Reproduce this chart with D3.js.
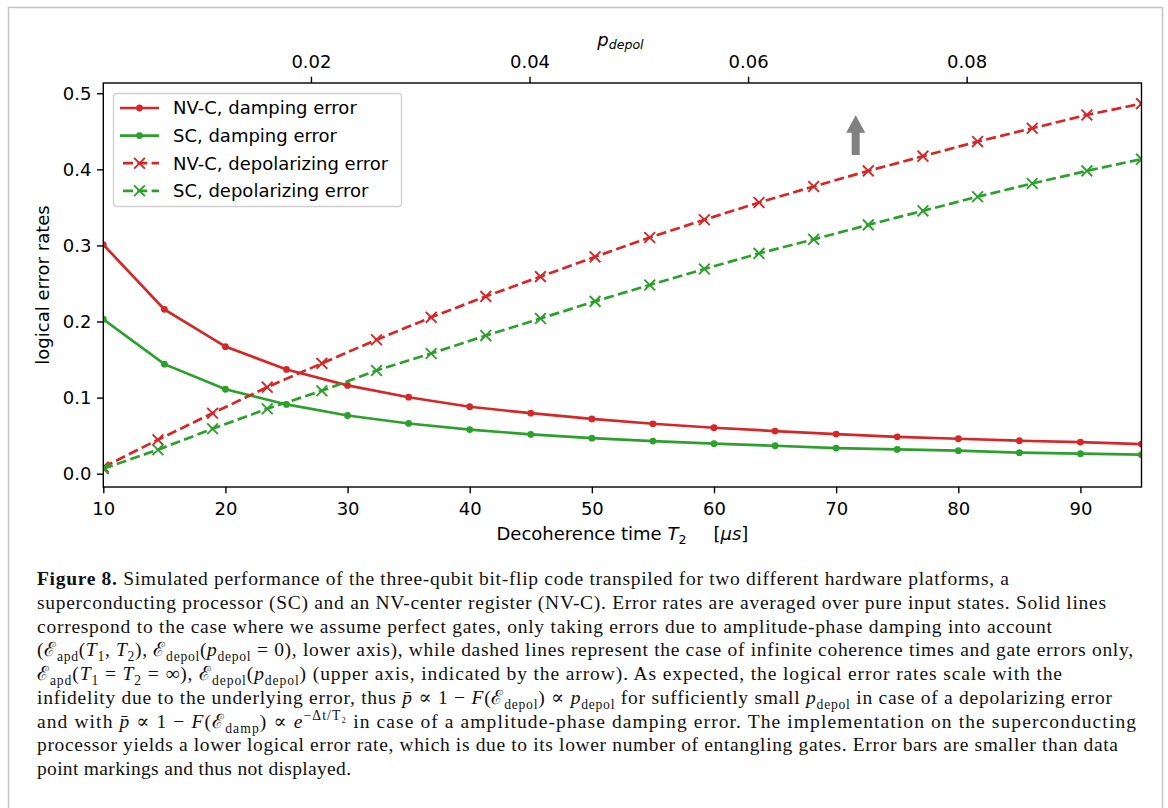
<!DOCTYPE html>
<html>
<head>
<meta charset="utf-8">
<script src="https://cdn.jsdelivr.net/npm/d3@7"></script>
<style>
  body { margin: 0; background: #fff; }
  svg { display: block; }
</style>
</head>
<body>
<svg id="chart" width="1168" height="808"></svg>
<script>
// values --------------------------------------------------------------
var t2 = [10, 15, 20, 25, 30, 35, 40, 45, 50, 55, 60, 65, 70, 75, 80, 85, 90, 95];
var nvDamp = [0.301, 0.216, 0.167, 0.137, 0.116, 0.1005, 0.088, 0.0795, 0.072, 0.0656,
              0.0604, 0.056, 0.052, 0.0485, 0.0459, 0.0433, 0.0415, 0.0389];
var scDamp = [0.203, 0.144, 0.111, 0.091, 0.0765, 0.066, 0.058, 0.0516, 0.0467, 0.0428,
              0.0394, 0.0367, 0.0336, 0.0319, 0.0302, 0.0276, 0.0263, 0.025];

var pDepol = [0.001, 0.006, 0.011, 0.016, 0.021, 0.026, 0.031, 0.036, 0.041, 0.046,
              0.051, 0.056, 0.061, 0.066, 0.071, 0.076, 0.081, 0.086, 0.091, 0.096];
var nvDepol = [0.0087, 0.0446, 0.0795, 0.1137, 0.145, 0.176, 0.2055, 0.233, 0.259, 0.285,
               0.3105, 0.3337, 0.3565, 0.3775, 0.398, 0.4173, 0.4365, 0.454, 0.4715, 0.4864];
var scDepol = [0.0066, 0.0315, 0.059, 0.0853, 0.109, 0.1356, 0.158, 0.1815, 0.204, 0.2265,
               0.248, 0.269, 0.2895, 0.308, 0.327, 0.3455, 0.364, 0.3814, 0.398, 0.4134];

var xTicks = [10, 20, 30, 40, 50, 60, 70, 80, 90];
var yTicks = [0, 0.1, 0.2, 0.3, 0.4, 0.5];
var topTicks = [0.02, 0.04, 0.06, 0.08];

// the grey arrow pointing at the upper axis (T2, error rate)
var arrowT2 = 71.6, arrowFrom = 0.419, arrowTo = 0.471;

var legendNames = ["NV-C, damping error", "SC, damping error",
                   "NV-C, depolarizing error", "SC, depolarizing error"];

// caption, one entry per printed line: [text, style]
var caption = [
  [["Figure 8.", "b"], [" Simulated performance of the three-qubit bit-flip code transpiled for two different hardware platforms, a", ""]],
  [["superconducting processor (SC) and an NV-center register (NV-C). Error rates are averaged over pure input states. Solid lines", ""]],
  [["correspond to the case where we assume perfect gates, only taking errors due to amplitude-phase damping into account", ""]],
  [["(ℰ", ""], ["apd", "sub"], ["(", ""], ["T", "i"], ["1", "sub"], [", ", ""], ["T", "i"], ["2", "sub"], ["), ℰ", ""], ["depol", "sub"],
   ["(", ""], ["p", "i"], ["depol", "sub"], [" = 0), lower axis), while dashed lines represent the case of infinite coherence times and gate errors only,", ""]],
  [["ℰ", ""], ["apd", "sub"], ["(", ""], ["T", "i"], ["1", "sub"], [" = ", ""], ["T", "i"], ["2", "sub"], [" = ∞), ℰ", ""], ["depol", "sub"],
   ["(", ""], ["p", "i"], ["depol", "sub"], [") (upper axis, indicated by the arrow). As expected, the logical error rates scale with the", ""]],
  [["infidelity due to the underlying error, thus ", ""], ["p\u0304", "i"], [" ∝ 1 − ", ""], ["F", "i"], ["(ℰ", ""], ["depol", "sub"], [") ∝ ", ""],
   ["p", "i"], ["depol", "sub"], [" for sufficiently small ", ""], ["p", "i"], ["depol", "sub"], [" in case of a depolarizing error", ""]],
  [["and with ", ""], ["p\u0304", "i"], [" ∝ 1 − ", ""], ["F", "i"], ["(ℰ", ""], ["damp", "sub"], [") ∝ ", ""], ["e", "i"], ["−Δt/T₂", "sup"],
   [" in case of a amplitude-phase damping error. The implementation on the superconducting", ""]],
  [["processor yields a lower logical error rate, which is due to its lower number of entangling gates. Error bars are smaller than data", ""]],
  [["point markings and thus not displayed.", ""]]
];
var captionEnds = [1009, 1106, 1052, 1133, 1062, 1112, 1136, 1118, 351];

// layout ---------------------------------------------------------------
var red = "#d62728", green = "#2ca02c";
var font = "DejaVu Sans, Verdana, sans-serif";
var fs = 18;
var m = {l: 103.3, r: 1141.5, t: 83, b: 487};

var svg = d3.select("#chart");
svg.append("rect").attr("width", 1168).attr("height", 808).attr("fill", "#fff");
svg.append("rect")
  .attr("x", 8.5).attr("y", 7.5).attr("width", 1154).attr("height", 830)
  .attr("fill", "none").attr("stroke", "#c4c4c4").attr("stroke-width", 1.5);

var x = d3.scaleLinear().domain([10, 95]).range([m.l, m.r]);
var xTop = d3.scaleLinear().domain([0.001, 0.096]).range([m.l, m.r]);
var y = d3.scaleLinear().domain([-0.0175, 0.5135]).range([m.b, m.t]);

svg.append("clipPath").attr("id", "plotclip")
  .append("rect").attr("x", m.l).attr("y", m.t).attr("width", m.r - m.l).attr("height", m.b - m.t);

var series = [
  {xs: t2, ys: nvDamp, sx: x, color: red, dashed: false},
  {xs: t2, ys: scDamp, sx: x, color: green, dashed: false},
  {xs: pDepol, ys: nvDepol, sx: xTop, color: red, dashed: true},
  {xs: pDepol, ys: scDepol, sx: xTop, color: green, dashed: true}
];

var crossPath = "M-5.4,-5.4L5.4,5.4M-5.4,5.4L5.4,-5.4";

var plot = svg.append("g").attr("clip-path", "url(#plotclip)");
series.forEach(function (s) {
  var pts = s.xs.map(function (v, i) { return [v, s.ys[i]]; });
  var line = d3.line().x(function (d) { return s.sx(d[0]); }).y(function (d) { return y(d[1]); });
  plot.append("path").datum(pts)
    .attr("d", line)
    .attr("fill", "none")
    .attr("stroke", s.color)
    .attr("stroke-width", 2.7)
    .attr("stroke-dasharray", s.dashed ? "10,4.3" : null);
  if (s.dashed) {
    plot.selectAll(null).data(pts).enter().append("path")
      .attr("transform", function (d) { return "translate(" + s.sx(d[0]) + "," + y(d[1]) + ")"; })
      .attr("d", crossPath)
      .attr("stroke", s.color).attr("stroke-width", 1.9).attr("fill", "none");
  } else {
    plot.selectAll(null).data(pts).enter().append("circle")
      .attr("cx", function (d) { return s.sx(d[0]); })
      .attr("cy", function (d) { return y(d[1]); })
      .attr("r", 3.4).attr("fill", s.color);
  }
});

// arrow
var ax = x(arrowT2), yTip = y(arrowTo), yTail = y(arrowFrom);
svg.append("path")
  .attr("d", "M" + ax + "," + yTip + "L" + (ax + 9.5) + "," + (yTip + 17.5) + "L" + (ax + 4) + "," + (yTip + 17.5) +
             "L" + (ax + 4) + "," + yTail + "L" + (ax - 4) + "," + yTail + "L" + (ax - 4) + "," + (yTip + 17.5) +
             "L" + (ax - 9.5) + "," + (yTip + 17.5) + "Z")
  .attr("fill", "#808080");

// axes
function styleAxis(g) {
  g.select(".domain").remove();
  g.attr("font-family", font).attr("font-size", fs);
  g.selectAll(".tick line").attr("stroke", "#000").attr("stroke-width", 1.4);
  g.selectAll(".tick text").attr("fill", "#000");
}

svg.append("g").attr("transform", "translate(0," + m.b + ")")
  .call(d3.axisBottom(x).tickValues(xTicks).tickSize(6.3).tickPadding(9).tickFormat(d3.format("d")))
  .call(styleAxis);
svg.append("g").attr("transform", "translate(0," + m.t + ")")
  .call(d3.axisTop(xTop).tickValues(topTicks).tickSize(6.3).tickPadding(9).tickFormat(d3.format(".2f")))
  .call(styleAxis);
svg.append("g").attr("transform", "translate(" + m.l + ",0)")
  .call(d3.axisLeft(y).tickValues(yTicks).tickSize(6.3).tickPadding(5.5).tickFormat(d3.format(".1f")))
  .call(styleAxis);

svg.append("rect")
  .attr("x", m.l).attr("y", m.t).attr("width", m.r - m.l).attr("height", m.b - m.t)
  .attr("fill", "none").attr("stroke", "#000").attr("stroke-width", 1.4);

// axis labels
var yl = svg.append("text")
  .attr("transform", "translate(49," + ((m.t + m.b) / 2) + ") rotate(-90)")
  .attr("text-anchor", "middle").attr("font-family", font).attr("font-size", fs)
  .text("logical error rates");

var xl = svg.append("text")
  .attr("x", (m.l + m.r) / 2).attr("y", 540)
  .attr("text-anchor", "middle").attr("font-family", font).attr("font-size", fs);
xl.append("tspan").text("Decoherence time ");
xl.append("tspan").attr("font-style", "italic").text("T");
xl.append("tspan").attr("font-size", 12.6).attr("dy", 3.5).text("2");
xl.append("tspan").attr("dy", -3.5).attr("xml:space", "preserve").text("\u2003\u2002[");
xl.append("tspan").attr("font-style", "italic").text("μs");
xl.append("tspan").text("]");

var tl = svg.append("text")
  .attr("x", (m.l + m.r) / 2 - 2).attr("y", 46)
  .attr("text-anchor", "middle").attr("font-family", font).attr("font-size", fs)
  .attr("font-style", "italic");
tl.append("tspan").text("p");
tl.append("tspan").attr("font-size", 12.6).attr("dy", 3).text("depol");

// legend
var lg = svg.append("g");
lg.append("rect")
  .attr("x", 113.5).attr("y", 93.5).attr("width", 288).attr("height", 113).attr("rx", 3)
  .attr("fill", "#fff").attr("fill-opacity", 0.8).attr("stroke", "#d0d0d0").attr("stroke-width", 1.3);
series.forEach(function (s, i) {
  var ly = 108 + i * 27.6;
  lg.append("line").attr("x1", 120).attr("x2", 159).attr("y1", ly).attr("y2", ly)
    .attr("stroke", s.color).attr("stroke-width", 2.7)
    .attr("stroke-dasharray", s.dashed ? "10,4.3" : null)
    .attr("stroke-dashoffset", s.dashed ? -3 : null);
  if (s.dashed) {
    lg.append("path").attr("transform", "translate(139.5," + ly + ")").attr("d", crossPath)
      .attr("stroke", s.color).attr("stroke-width", 1.9).attr("fill", "none");
  } else {
    lg.append("circle").attr("cx", 139.5).attr("cy", ly).attr("r", 3.4).attr("fill", s.color);
  }
  lg.append("text").attr("x", 173).attr("y", ly).attr("dy", "0.36em")
    .attr("font-family", font).attr("font-size", fs).text(legendNames[i]);
});

// caption
var cfs = 19.5;
caption.forEach(function (segs, li) {
  var t = svg.append("text")
    .attr("x", 37).attr("y", 585 + li * 23.75)
    .attr("font-family", "Liberation Serif, Times New Roman, DejaVu Serif, serif")
    .attr("font-size", cfs).attr("fill", "#111")
    .attr("textLength", captionEnds[li] - 37).attr("lengthAdjust", "spacing")
    .attr("xml:space", "preserve");
  var shift = 0;
  segs.forEach(function (sg) {
    var sp = t.append("tspan").text(sg[0]);
    var want = sg[1] === "sub" ? 5 : (sg[1] === "sup" ? -8 : 0);
    if (want !== shift) { sp.attr("dy", want - shift); shift = want; }
    if (sg[1] === "b") sp.attr("font-weight", "bold");
    if (sg[1] === "i") sp.attr("font-style", "italic");
    if (sg[1] === "sub" || sg[1] === "sup") sp.attr("font-size", cfs * 0.7);
  });
});
</script>
</body>
</html>
